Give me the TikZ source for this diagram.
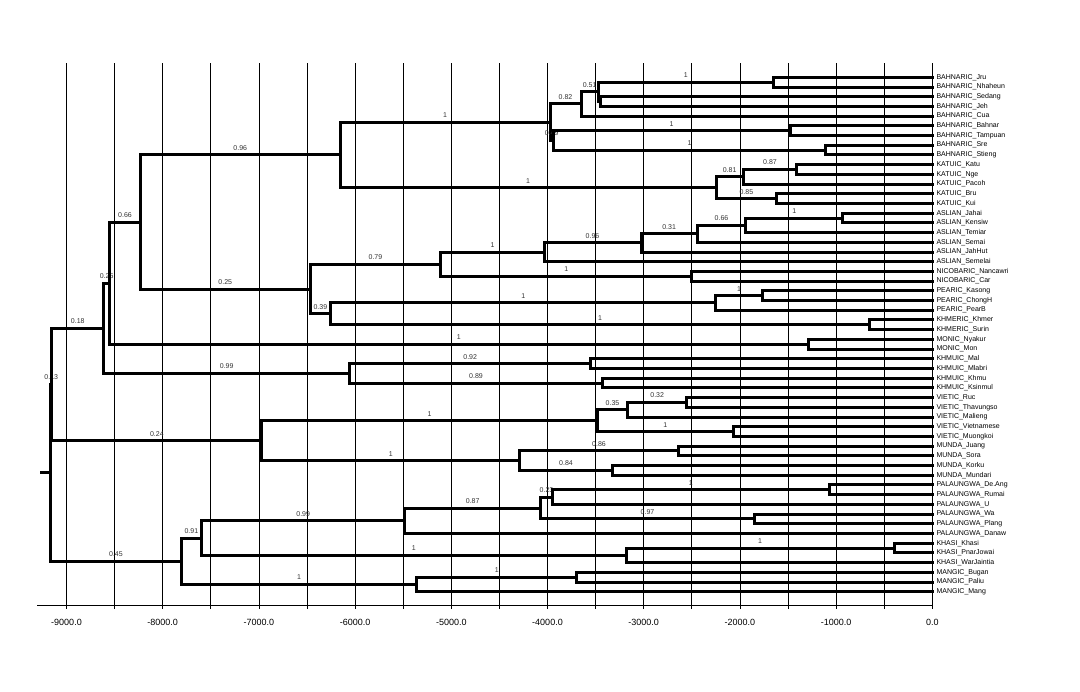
\documentclass[tikz,border=0pt]{standalone}
\usepackage{fontspec}
\setmainfont{Liberation Sans}
\begin{document}
\begin{tikzpicture}[x=1pt,y=-9.706pt,
  branch/.style={line width=3pt, line cap=rect},
  gridline/.style={line width=0.8pt},
  leaf/.style={anchor=west, inner xsep=4pt, inner ysep=0pt, font=\fontsize{7}{8}\selectfont},
  support/.style={above=2.5pt, inner sep=0.5pt, font=\fontsize{7}{8}\selectfont, text=black!80},
  ticklabel/.style={font=\fontsize{9}{10}\selectfont}]
\useasboundingbox (0pt,77.3pt) rectangle (1080pt,-614.7pt);

% grid and axis
\foreach \k in {0,...,18}
  \draw[gridline] ({66.5+48.1*\k},-1.47) -- ({66.5+48.1*\k},54.78);
\coordinate (a0) at (37.2,54.45);
\coordinate (a1) at (932.3,54.45);
\draw[gridline] (a0) -- (a1);
\foreach \k/\v in {0/-9000.0,2/-8000.0,4/-7000.0,6/-6000.0,8/-5000.0,10/-4000.0,12/-3000.0,14/-2000.0,16/-1000.0,18/0.0}
  \node[ticklabel] (t\k) at ({66.5+48.1*\k},56.12) {\v};

% leaves
\foreach \name [count=\i from 0] in {BAHNARIC\_Jru,BAHNARIC\_Nhaheun,BAHNARIC\_Sedang,BAHNARIC\_Jeh,BAHNARIC\_Cua,BAHNARIC\_Bahnar,BAHNARIC\_Tampuan,BAHNARIC\_Sre,BAHNARIC\_Stieng,KATUIC\_Katu,KATUIC\_Nge,KATUIC\_Pacoh,KATUIC\_Bru,KATUIC\_Kui,ASLIAN\_Jahai,ASLIAN\_Kensiw,ASLIAN\_Temiar,ASLIAN\_Semai,ASLIAN\_JahHut,ASLIAN\_Semelai,NICOBARIC\_Nancawri,NICOBARIC\_Car,PEARIC\_Kasong,PEARIC\_ChongH,PEARIC\_PearB,KHMERIC\_Khmer,KHMERIC\_Surin,MONIC\_Nyakur,MONIC\_Mon,KHMUIC\_Mal,KHMUIC\_Mlabri,KHMUIC\_Khmu,KHMUIC\_Ksinmul,VIETIC\_Ruc,VIETIC\_Thavungso,VIETIC\_Malieng,VIETIC\_Vietnamese,VIETIC\_Muongkoi,MUNDA\_Juang,MUNDA\_Sora,MUNDA\_Korku,MUNDA\_Mundari,PALAUNGWA\_De.Ang,PALAUNGWA\_Rumai,PALAUNGWA\_U,PALAUNGWA\_Wa,PALAUNGWA\_Plang,PALAUNGWA\_Danaw,KHASI\_Khasi,KHASI\_PnarJowai,KHASI\_WarJaintia,MANGIC\_Bugan,MANGIC\_Paliu,MANGIC\_Mang}
  \node[leaf] (l\i) at (932.3,\i) {\name};

% internal nodes
\coordinate (stub) at (41.7,40.7522);
\coordinate (root) at (50.8,40.7522);
\coordinate (n13) at (51.8,31.64502);
\coordinate (n18) at (103.7,25.852539);
\coordinate (n26) at (109.5,21.205078);
\coordinate (n66) at (140.5,14.910156);
\coordinate (n96) at (340,8);
\coordinate (bah) at (550,4.625);
\coordinate (b82) at (581,2.75);
\coordinate (b51) at (598.3,1.5);
\coordinate (jn) at (773.3,0.5);
\coordinate (sj) at (600,2.5);
\coordinate (b4x) at (553.3,6.5);
\coordinate (bt) at (790,5.5);
\coordinate (ss) at (825.7,7.5);
\coordinate (kat) at (716,11.375);
\coordinate (k81) at (743.3,10.25);
\coordinate (kn) at (796.7,9.5);
\coordinate (bk) at (776.7,12.5);
\coordinate (n25) at (310,21.820313);
\coordinate (n79) at (440.9,19.265625);
\coordinate (asl) at (544.1,18.03125);
\coordinate (a96) at (641,17.0625);
\coordinate (a31) at (697.3,16.125);
\coordinate (a66) at (745.7,15.25);
\coordinate (jk) at (842.7,14.5);
\coordinate (nic) at (691.7,20.5);
\coordinate (n39) at (330.8,24.375);
\coordinate (pea) at (715.7,23.25);
\coordinate (kc) at (762.3,22.5);
\coordinate (khm) at (869.3,25.5);
\coordinate (mon) at (808.3,27.5);
\coordinate (kmu) at (349.7,30.5);
\coordinate (mm) at (590.7,29.5);
\coordinate (kk) at (602.3,31.5);
\coordinate (n24) at (261.9,37.4375);
\coordinate (vie) at (597.3,35.375);
\coordinate (v35) at (627.7,34.25);
\coordinate (rt) at (686.7,33.5);
\coordinate (vm) at (733.3,36.5);
\coordinate (mun) at (519.7,39.5);
\coordinate (js) at (678.3,38.5);
\coordinate (km) at (612.3,40.5);
\coordinate (n45) at (181.1,49.859375);
\coordinate (n91) at (201.7,47.46875);
\coordinate (p99) at (404.7,45.6875);
\coordinate (p87) at (540.7,44.375);
\coordinate (p23) at (552.3,43.25);
\coordinate (dr) at (829.3,42.5);
\coordinate (wp) at (754.3,45.5);
\coordinate (kha) at (626,49.25);
\coordinate (kp) at (894.3,48.5);
\coordinate (man) at (416.8,52.25);
\coordinate (bp) at (576.7,51.5);

% backbone
\draw[branch] (stub) -- (root);
\draw[branch] (root) |- (n13) node[support,pos=.75] {0.13};
\draw[branch] (root) |- (n45) node[support,pos=.75] {0.45};
\draw[branch] (n13) |- (n18) node[support,pos=.75] {0.18};
\draw[branch] (n13) |- (n24) node[support,pos=.75] {0.24};
\draw[branch] (n18) |- (n26) node[support,pos=.75] {0.26};
\draw[branch] (n18) |- (kmu) node[support,pos=.75] {0.99};
\draw[branch] (n26) |- (n66) node[support,pos=.75] {0.66};
\draw[branch] (n26) |- (mon) node[support,pos=.75] {1};
\draw[branch] (n66) |- (n96) node[support,pos=.75] {0.96};
\draw[branch] (n66) |- (n25) node[support,pos=.75] {0.25};
\draw[branch] (n96) |- (bah) node[support,pos=.75] {1};
\draw[branch] (n96) |- (kat) node[support,pos=.75] {1};

% Bahnaric
\draw[branch] (bah) |- (b82) node[support,pos=.75] {0.82};
\draw[branch] (bah) |- (b4x) node[support,pos=.75] {0.49};
\draw[branch] (b82) |- (b51) node[support,pos=.75] {0.51};
\draw[branch] (b82) |- (l4.west);
\draw[branch] (b51) |- (jn) node[support,pos=.75] {1};
\draw[branch] (b51) |- (sj);
\draw[branch] (jn) |- (l0.west);
\draw[branch] (jn) |- (l1.west);
\draw[branch] (sj) |- (l2.west);
\draw[branch] (sj) |- (l3.west);
\draw[branch] (b4x) |- (bt) node[support,pos=.75] {1};
\draw[branch] (b4x) |- (ss) node[support,pos=.75] {1};
\draw[branch] (bt) |- (l5.west);
\draw[branch] (bt) |- (l6.west);
\draw[branch] (ss) |- (l7.west);
\draw[branch] (ss) |- (l8.west);

% Katuic
\draw[branch] (kat) |- (k81) node[support,pos=.75] {0.81};
\draw[branch] (kat) |- (bk) node[support,pos=.75] {0.85};
\draw[branch] (k81) |- (kn) node[support,pos=.75] {0.87};
\draw[branch] (k81) |- (l11.west);
\draw[branch] (kn) |- (l9.west);
\draw[branch] (kn) |- (l10.west);
\draw[branch] (bk) |- (l12.west);
\draw[branch] (bk) |- (l13.west);

% Aslian, Nicobaric
\draw[branch] (n25) |- (n79) node[support,pos=.75] {0.79};
\draw[branch] (n25) |- (n39) node[support,pos=.75] {0.39};
\draw[branch] (n79) |- (asl) node[support,pos=.75] {1};
\draw[branch] (n79) |- (nic) node[support,pos=.75] {1};
\draw[branch] (asl) |- (a96) node[support,pos=.75] {0.96};
\draw[branch] (asl) |- (l19.west);
\draw[branch] (a96) |- (a31) node[support,pos=.75] {0.31};
\draw[branch] (a96) |- (l18.west);
\draw[branch] (a31) |- (a66) node[support,pos=.75] {0.66};
\draw[branch] (a31) |- (l17.west);
\draw[branch] (a66) |- (jk) node[support,pos=.75] {1};
\draw[branch] (a66) |- (l16.west);
\draw[branch] (jk) |- (l14.west);
\draw[branch] (jk) |- (l15.west);
\draw[branch] (nic) |- (l20.west);
\draw[branch] (nic) |- (l21.west);

% Pearic, Khmeric, Monic
\draw[branch] (n39) |- (pea) node[support,pos=.75] {1};
\draw[branch] (n39) |- (khm) node[support,pos=.75] {1};
\draw[branch] (pea) |- (kc) node[support,pos=.75] {1};
\draw[branch] (pea) |- (l24.west);
\draw[branch] (kc) |- (l22.west);
\draw[branch] (kc) |- (l23.west);
\draw[branch] (khm) |- (l25.west);
\draw[branch] (khm) |- (l26.west);
\draw[branch] (mon) |- (l27.west);
\draw[branch] (mon) |- (l28.west);

% Khmuic
\draw[branch] (kmu) |- (mm) node[support,pos=.75] {0.92};
\draw[branch] (kmu) |- (kk) node[support,pos=.75] {0.89};
\draw[branch] (mm) |- (l29.west);
\draw[branch] (mm) |- (l30.west);
\draw[branch] (kk) |- (l31.west);
\draw[branch] (kk) |- (l32.west);

% Vietic, Munda
\draw[branch] (n24) |- (vie) node[support,pos=.75] {1};
\draw[branch] (n24) |- (mun) node[support,pos=.75] {1};
\draw[branch] (vie) |- (v35) node[support,pos=.75] {0.35};
\draw[branch] (vie) |- (vm) node[support,pos=.75] {1};
\draw[branch] (v35) |- (rt) node[support,pos=.75] {0.32};
\draw[branch] (v35) |- (l35.west);
\draw[branch] (rt) |- (l33.west);
\draw[branch] (rt) |- (l34.west);
\draw[branch] (vm) |- (l36.west);
\draw[branch] (vm) |- (l37.west);
\draw[branch] (mun) |- (js) node[support,pos=.75] {0.86};
\draw[branch] (mun) |- (km) node[support,pos=.75] {0.84};
\draw[branch] (js) |- (l38.west);
\draw[branch] (js) |- (l39.west);
\draw[branch] (km) |- (l40.west);
\draw[branch] (km) |- (l41.west);

% Palaungwa, Khasi, Mangic
\draw[branch] (n45) |- (n91) node[support,pos=.75] {0.91};
\draw[branch] (n45) |- (man) node[support,pos=.75] {1};
\draw[branch] (n91) |- (p99) node[support,pos=.75] {0.99};
\draw[branch] (n91) |- (kha) node[support,pos=.75] {1};
\draw[branch] (p99) |- (p87) node[support,pos=.75] {0.87};
\draw[branch] (p99) |- (l47.west);
\draw[branch] (p87) |- (p23) node[support,pos=.75] {0.23};
\draw[branch] (p87) |- (wp) node[support,pos=.75] {0.97};
\draw[branch] (p23) |- (dr) node[support,pos=.75] {1};
\draw[branch] (p23) |- (l44.west);
\draw[branch] (dr) |- (l42.west);
\draw[branch] (dr) |- (l43.west);
\draw[branch] (wp) |- (l45.west);
\draw[branch] (wp) |- (l46.west);
\draw[branch] (kha) |- (kp) node[support,pos=.75] {1};
\draw[branch] (kha) |- (l50.west);
\draw[branch] (kp) |- (l48.west);
\draw[branch] (kp) |- (l49.west);
\draw[branch] (man) |- (bp) node[support,pos=.75] {1};
\draw[branch] (man) |- (l53.west);
\draw[branch] (bp) |- (l51.west);
\draw[branch] (bp) |- (l52.west);
\end{tikzpicture}
\end{document}
